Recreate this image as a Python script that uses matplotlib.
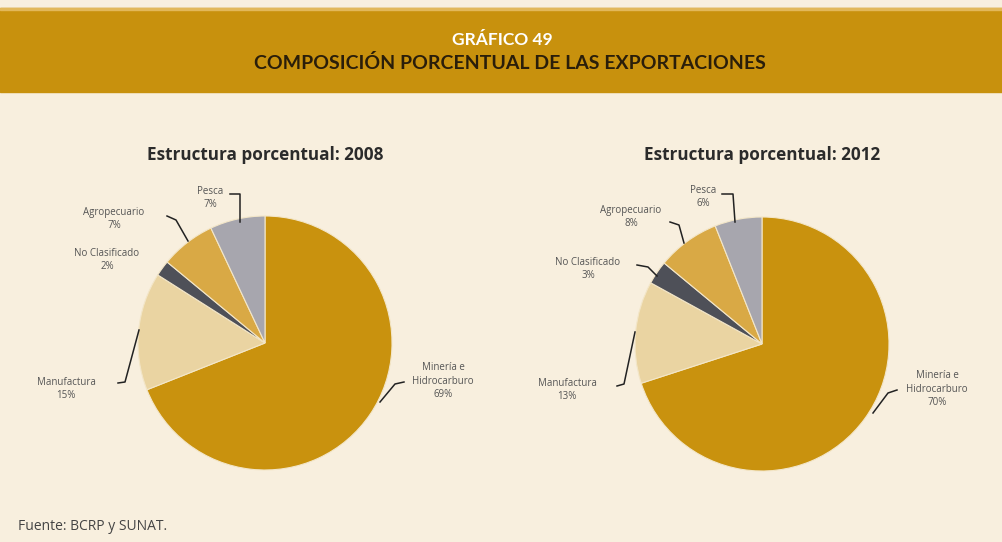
import matplotlib.pyplot as plt
from matplotlib.patches import Rectangle

# Datos
categorias = ['Minería e\nHidrocarburo', 'Manufactura', 'No Clasificado', 'Agropecuario', 'Pesca']
valores_2008 = [69, 15, 2, 7, 7]
valores_2012 = [70, 13, 3, 8, 6]
colores = ['#C9920E', '#EAD4A2', '#4E5058', '#D9A945', '#A7A6AE']

W, H = 1003, 542
fondo = '#F8EFDE'
banda = '#C8910D'


def p(x, y):
    # coordenadas de pixel (origen arriba) a datos
    return (x, H - y)


fig = plt.figure(figsize=(W / 100, H / 100), dpi=100)
fig.patch.set_facecolor(fondo)
ax = fig.add_axes([0, 0, 1, 1])
ax.axis('off')

# Banda del encabezado
ax.add_patch(Rectangle(p(0, 92), W, 84, color=banda, zorder=1))
ax.add_patch(Rectangle(p(0, 10), W, 2, color='#E2B85A', zorder=2))
ax.text(*p(502, 40), 'GRÁFICO 49', ha='center', va='center', fontsize=12.5,
        fontweight='bold', color='white', family='Lato')
ax.text(*p(510, 63), 'COMPOSICIÓN PORCENTUAL DE LAS EXPORTACIONES', ha='center',
        va='center', fontsize=14, fontweight='bold', color='#2A1E0A', family='Lato')


def pastel(centro, valores, titulo, etiquetas):
    ax.pie(valores, colors=colores, startangle=90, counterclock=False,
           center=p(*centro), radius=127, frame=True,
           wedgeprops=dict(edgecolor='#F3E6C8', linewidth=0.8))
    ax.text(*p(centro[0], 155), titulo, ha='center', va='center', fontsize=12.3,
            fontweight='bold', color='#2B2B2B', family='Open Sans')
    for texto, pos, linea in etiquetas:
        ax.text(*p(*pos), texto, ha='center', va='center', fontsize=7,
                color='#555555', family='Open Sans', linespacing=1.3)
        if linea:
            xs = [q[0] for q in linea]
            ys = [H - q[1] for q in linea]
            ax.plot(xs, ys, color='#222222', lw=1.1, zorder=5)


et_2008 = [
    ('Pesca\n%d%%' % valores_2008[4], (210, 198), [(230, 194), (240, 194), (240, 222)]),
    ('Agropecuario\n%d%%' % valores_2008[3], (114, 219), [(167, 216), (176, 220), (188, 241)]),
    ('No Clasificado\n%d%%' % valores_2008[2], (107, 260), None),
    ('Manufactura\n%d%%' % valores_2008[1], (66, 389), [(118, 383), (125, 382), (139, 330)]),
    (categorias[0] + '\n%d%%' % valores_2008[0], (443, 381), [(404, 382), (395, 384), (380, 402)]),
]
et_2012 = [
    ('Pesca\n%d%%' % valores_2012[4], (703, 197), [(722, 194), (733, 194), (735, 222)]),
    ('Agropecuario\n%d%%' % valores_2012[3], (631, 217), [(670, 222), (679, 225), (684, 243)]),
    ('No Clasificado\n%d%%' % valores_2012[2], (588, 269), [(637, 265), (648, 267), (657, 276)]),
    ('Manufactura\n%d%%' % valores_2012[1], (567, 390), [(617, 386), (624, 384), (635, 332)]),
    (categorias[0] + '\n%d%%' % valores_2012[0], (937, 389), [(897, 390), (888, 393), (873, 413)]),
]

pastel((265, 343), valores_2008, 'Estructura porcentual: 2008', et_2008)
pastel((762, 344), valores_2012, 'Estructura porcentual: 2012', et_2012)

ax.text(*p(18, 527), 'Fuente: BCRP y SUNAT.', ha='left', va='center', fontsize=10,
        color='#444444', family='Open Sans')

ax.set_xlim(0, W)
ax.set_ylim(0, H)
ax.set_aspect('equal')
ax.axis('off')

fig.savefig('out.png', dpi=100, facecolor=fondo)
